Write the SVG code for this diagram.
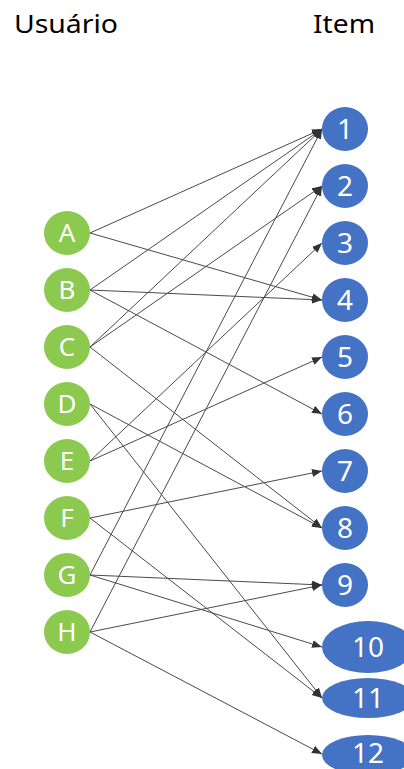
<svg xmlns="http://www.w3.org/2000/svg" width="404" height="769" viewBox="0 0 404 769">
<defs>
<marker id="arr" markerUnits="userSpaceOnUse" markerWidth="11" markerHeight="9" refX="10" refY="4" orient="auto">
<path d="M0,0 L10,4 L0,8 z" fill="#333333"/>
</marker>
<style>
.title{font-family:"Noto Sans","Open Sans",sans-serif;font-size:26px;fill:#000}
.u ellipse{fill:#8BC94F}
.i ellipse{fill:#4472C4}
.lbl{font-family:"Noto Sans","Open Sans",sans-serif;font-size:26px;fill:#fff;text-anchor:middle}
.i .lbl{font-size:28px}
#edges line{stroke:#4a4a4a;stroke-width:1;marker-end:url(#arr)}
</style>
</defs>
<rect width="404" height="769" fill="#fff"/>
<text class="title" x="14" y="33" textLength="104" lengthAdjust="spacingAndGlyphs">Usuário</text>
<text class="title" x="313" y="33" textLength="62" lengthAdjust="spacingAndGlyphs">Item</text>
<g id="edges">
<line x1="90" y1="233" x2="322" y2="129"/>
<line x1="90" y1="233" x2="322" y2="300"/>
<line x1="90" y1="290" x2="322" y2="129"/>
<line x1="90" y1="290" x2="322" y2="300"/>
<line x1="90" y1="290" x2="322" y2="414"/>
<line x1="90" y1="347" x2="322" y2="129"/>
<line x1="90" y1="347" x2="322" y2="186"/>
<line x1="90" y1="347" x2="322" y2="528"/>
<line x1="90" y1="404" x2="322" y2="528"/>
<line x1="90" y1="404" x2="322" y2="698"/>
<line x1="90" y1="461" x2="322" y2="243"/>
<line x1="90" y1="461" x2="322" y2="357"/>
<line x1="90" y1="518" x2="322" y2="471"/>
<line x1="90" y1="518" x2="322" y2="698"/>
<line x1="90" y1="575" x2="322" y2="129"/>
<line x1="90" y1="575" x2="322" y2="585"/>
<line x1="90" y1="575" x2="322" y2="647"/>
<line x1="90" y1="632" x2="322" y2="186"/>
<line x1="90" y1="632" x2="322" y2="585"/>
<line x1="90" y1="632" x2="322" y2="754"/>
</g>
<g id="uA" class="u"><ellipse cx="67" cy="233" rx="23" ry="22"/><text class="lbl" x="67" y="242.3">A</text></g>
<g id="uB" class="u"><ellipse cx="67" cy="290" rx="23" ry="22"/><text class="lbl" x="67" y="299.3">B</text></g>
<g id="uC" class="u"><ellipse cx="67" cy="347" rx="23" ry="22"/><text class="lbl" x="67" y="356.3">C</text></g>
<g id="uD" class="u"><ellipse cx="67" cy="404" rx="23" ry="22"/><text class="lbl" x="67" y="413.3">D</text></g>
<g id="uE" class="u"><ellipse cx="67" cy="461" rx="23" ry="22"/><text class="lbl" x="67" y="470.3">E</text></g>
<g id="uF" class="u"><ellipse cx="67" cy="518" rx="23" ry="22"/><text class="lbl" x="67" y="527.3">F</text></g>
<g id="uG" class="u"><ellipse cx="67" cy="575" rx="23" ry="22"/><text class="lbl" x="67" y="584.3">G</text></g>
<g id="uH" class="u"><ellipse cx="67" cy="632" rx="23" ry="22"/><text class="lbl" x="67" y="641.3">H</text></g>
<g id="i1" class="i"><ellipse cx="345" cy="129" rx="23" ry="22"/><text class="lbl" x="345" y="139">1</text></g>
<g id="i2" class="i"><ellipse cx="345" cy="186" rx="23" ry="22"/><text class="lbl" x="345" y="196">2</text></g>
<g id="i3" class="i"><ellipse cx="345" cy="243" rx="23" ry="22"/><text class="lbl" x="345" y="253">3</text></g>
<g id="i4" class="i"><ellipse cx="345" cy="300" rx="23" ry="22"/><text class="lbl" x="345" y="310">4</text></g>
<g id="i5" class="i"><ellipse cx="345" cy="357" rx="23" ry="22"/><text class="lbl" x="345" y="367">5</text></g>
<g id="i6" class="i"><ellipse cx="345" cy="414" rx="23" ry="22"/><text class="lbl" x="345" y="424">6</text></g>
<g id="i7" class="i"><ellipse cx="345" cy="471" rx="23" ry="22"/><text class="lbl" x="345" y="481">7</text></g>
<g id="i8" class="i"><ellipse cx="345" cy="528" rx="23" ry="22"/><text class="lbl" x="345" y="538">8</text></g>
<g id="i9" class="i"><ellipse cx="345" cy="585" rx="23" ry="22"/><text class="lbl" x="345" y="595">9</text></g>
<g id="i10" class="i"><ellipse cx="368" cy="647" rx="46" ry="26"/><text class="lbl" x="368" y="657">10</text></g>
<g id="i11" class="i"><ellipse cx="368" cy="698" rx="46" ry="20"/><text class="lbl" x="368" y="708">11</text></g>
<g id="i12" class="i"><ellipse cx="368" cy="755" rx="46" ry="20"/><text class="lbl" x="368" y="763">12</text></g>
</svg>
